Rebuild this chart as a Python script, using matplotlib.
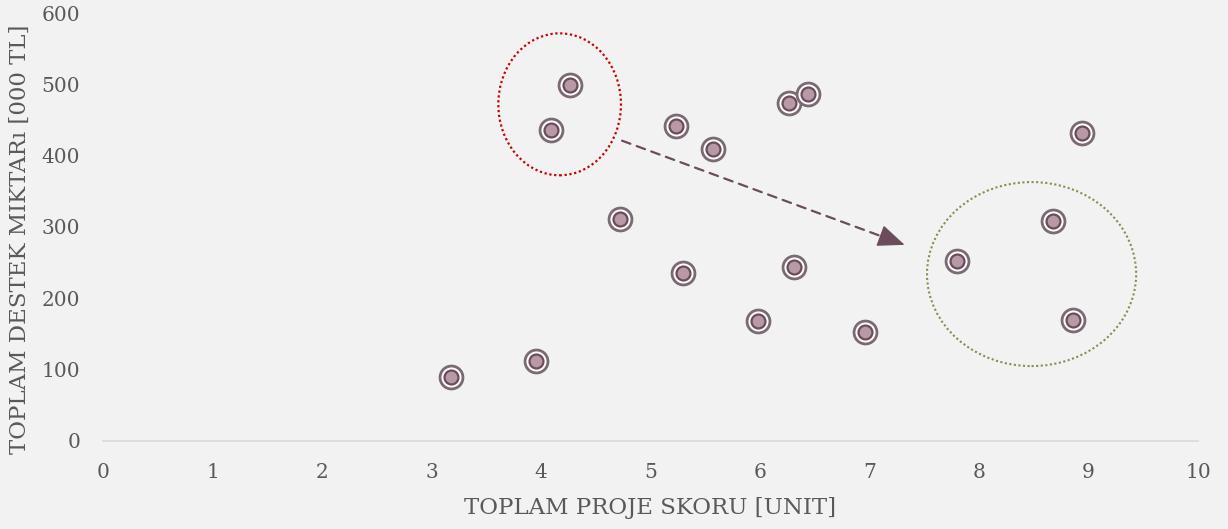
import matplotlib
matplotlib.use("Agg")
import matplotlib.pyplot as plt
from matplotlib.patches import Ellipse

# data
proje_skoru = [3.18, 3.95, 4.09, 4.26, 4.72, 5.23, 5.30, 5.57, 5.98, 6.26, 6.44, 6.31, 6.96, 7.80, 8.68, 8.86, 8.94]
destek = [90, 112, 436, 499, 311, 442, 235, 409, 168, 474, 486, 244, 153, 252, 308, 170, 432]
x_ticks = list(range(0, 11))
y_ticks = [0, 100, 200, 300, 400, 500, 600]

bg = "#f2f2f2"
txt = "#595959"
arrow_col = "#6b4c5c"

plt.rcParams['font.family'] = ['DejaVu Serif']
fig = plt.figure(figsize=(12.28, 5.29), dpi=100, facecolor=bg)
ax = fig.add_axes([0.0839, 0.1664, 0.8917, 0.809])
ax.set_facecolor(bg)

ax.scatter(proje_skoru, destek, s=16.5**2, facecolor="white", edgecolor="#7a6a72", linewidth=2.0, zorder=3)
ax.scatter(proje_skoru, destek, s=10**2, facecolor="#b89aa6", edgecolor="#6b4c5c", linewidth=1.6, zorder=4)

ax.add_patch(Ellipse((4.17, 472), 1.12, 199, fill=False, edgecolor="#cc0000", linestyle=(0, (1, 1.2)), linewidth=1.6, zorder=2))
ax.add_patch(Ellipse((8.48, 234), 1.91, 258, fill=False, edgecolor="#7f9050", linestyle=(0, (1, 1.2)), linewidth=1.5, zorder=2))

# dashed shaft, then a solid head
start, end = (4.74, 421), (7.32, 275)
ax.annotate("", xy=end, xytext=start,
            arrowprops=dict(arrowstyle="-", color=arrow_col, linestyle=(0, (4, 3)), linewidth=1.6,
                            shrinkA=0, shrinkB=12), zorder=2)
ax.annotate("", xy=end, xytext=(7.1, 287.5),
            arrowprops=dict(arrowstyle="-|>,head_length=0.85,head_width=0.35", mutation_scale=20,
                            color=arrow_col, linewidth=1.0, shrinkA=0, shrinkB=0), zorder=2)

ax.set_xlim(0, 10)
ax.set_ylim(0, 600)
ax.set_xticks(x_ticks)
ax.set_yticks(y_ticks)
for s in ["top", "right", "left"]:
    ax.spines[s].set_visible(False)
ax.spines["bottom"].set_color("#d9d9d9")
ax.spines["bottom"].set_linewidth(1.2)
ax.tick_params(length=0, labelsize=14.5, colors=txt)
ax.tick_params(axis="x", pad=16)
ax.tick_params(axis="y", pad=16.5)
ax.set_xlabel("TOPLAM PROJE SKORU [UNIT]", fontsize=16.5, color=txt, labelpad=11)
ax.set_ylabel("TOPLAM DESTEK MIKTARı [000 TL]", fontsize=16.5, color=txt)
ax.yaxis.set_label_coords(-0.0658, 0.472)

fig.savefig("out.png", dpi=100, facecolor=bg)
